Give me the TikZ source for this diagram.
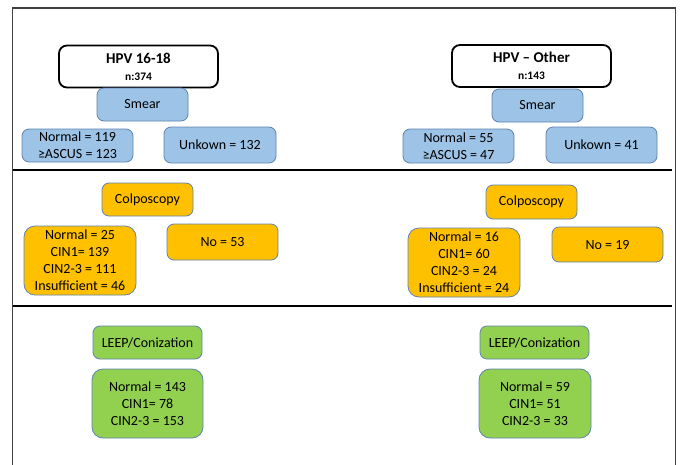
\documentclass[tikz,border=0pt]{standalone}
\usepackage{fontspec}
\setmainfont{Carlito}
\definecolor{smearblue}{RGB}{157,195,230}
\definecolor{colpoorange}{RGB}{255,192,0}
\definecolor{leepgreen}{RGB}{146,208,80}
\definecolor{edgeblue}{RGB}{95,130,175}
\definecolor{framegray}{RGB}{64,64,64}
\tikzset{
  base/.style={draw=edgeblue, line width=0.8pt, inner sep=0pt, align=center,
    font=\fontsize{14}{17}\selectfont, text=black},
  bluebox/.style={base, fill=smearblue, rounded corners=7pt},
  orangebox/.style={base, fill=colpoorange, rounded corners=7pt},
  greenbox/.style={base, fill=leepgreen, rounded corners=7pt},
  bigbox/.style={rounded corners=11pt},
  headbox/.style={draw=black, line width=1.8pt, fill=white, rounded corners=8pt,
    inner sep=0pt, align=center, minimum width=159pt, minimum height=42pt},
  sepline/.style={line width=2.2pt, black},
}
\begin{document}
\begin{tikzpicture}[x=1pt,y=-1pt]
\useasboundingbox (0,0) rectangle (680,464);
% frame
\coordinate (fbl) at (12.5,470);
\coordinate (ftl) at (12.5,8);
\coordinate (ftr) at (675.5,8);
\coordinate (fbr) at (675.5,470);
\draw[framegray, line width=1.4pt] (fbl) -- (ftl) -- (ftr) -- (fbr);
% separators
\coordinate (s1a) at (13,170); \coordinate (s1b) at (672,170);
\coordinate (s2a) at (13,306); \coordinate (s2b) at (672,306);
\draw[sepline] (s1a) -- (s1b);
\draw[sepline] (s2a) -- (s2b);

% left column
\node[headbox] (hpv1) at (138.5,66.5) {{\fontsize{15}{18}\bfseries\selectfont HPV 16-18}\\[5pt]{\fontsize{11.5}{14}\bfseries\selectfont n:374}};
\node[bluebox, minimum width=91pt, minimum height=33pt] (smear1) at (142.5,104.5) {Smear};
\node[bluebox, minimum width=111pt, minimum height=33pt] (sm1a) at (77.5,145.5) {Normal = 119\\≥ASCUS = 123};
\node[bluebox, minimum width=112pt, minimum height=36pt] (sm1b) at (220,145) {Unkown = 132};
\node[orangebox, minimum width=91pt, minimum height=33pt] (col1) at (147.5,199.5) {Colposcopy};
\node[orangebox, bigbox, minimum width=112pt, minimum height=69pt] (col1a) at (80,260.5) {Normal = 25\\CIN1= 139\\CIN2-3 = 111\\Insufficient = 46};
\node[orangebox, minimum width=111pt, minimum height=36pt] (col1b) at (222.5,242) {No = 53};
\node[greenbox, minimum width=109pt, minimum height=33pt] (leep1) at (147.5,342.5) {LEEP/Conization};
\node[greenbox, bigbox, minimum width=111pt, minimum height=69pt] (leep1a) at (147.5,403.5) {Normal = 143\\CIN1= 78\\CIN2-3 = 153};

% right column
\node[headbox] (hpv2) at (531.5,66) {{\fontsize{15}{18}\bfseries\selectfont HPV – Other}\\[5pt]{\fontsize{11.5}{14}\bfseries\selectfont n:143}};
\node[bluebox, minimum width=91pt, minimum height=33pt] (smear2) at (537.5,105.5) {Smear};
\node[bluebox, minimum width=111pt, minimum height=34pt] (sm2a) at (458.5,146) {Normal = 55\\≥ASCUS = 47};
\node[bluebox, minimum width=111pt, minimum height=36pt] (sm2b) at (601.5,145) {Unkown = 41};
\node[orangebox, minimum width=91pt, minimum height=34pt] (col2) at (531.5,202) {Colposcopy};
\node[orangebox, bigbox, minimum width=112pt, minimum height=69pt] (col2a) at (464,262.5) {Normal = 16\\CIN1= 60\\CIN2-3 = 24\\Insufficient = 24};
\node[orangebox, minimum width=111pt, minimum height=35pt] (col2b) at (607.5,244.5) {No = 19};
\node[greenbox, minimum width=109pt, minimum height=33pt] (leep2) at (534.5,342.5) {LEEP/Conization};
\node[greenbox, bigbox, minimum width=112pt, minimum height=69pt] (leep2a) at (535,403.5) {Normal = 59\\CIN1= 51\\CIN2-3 = 33};
\end{tikzpicture}
\end{document}
